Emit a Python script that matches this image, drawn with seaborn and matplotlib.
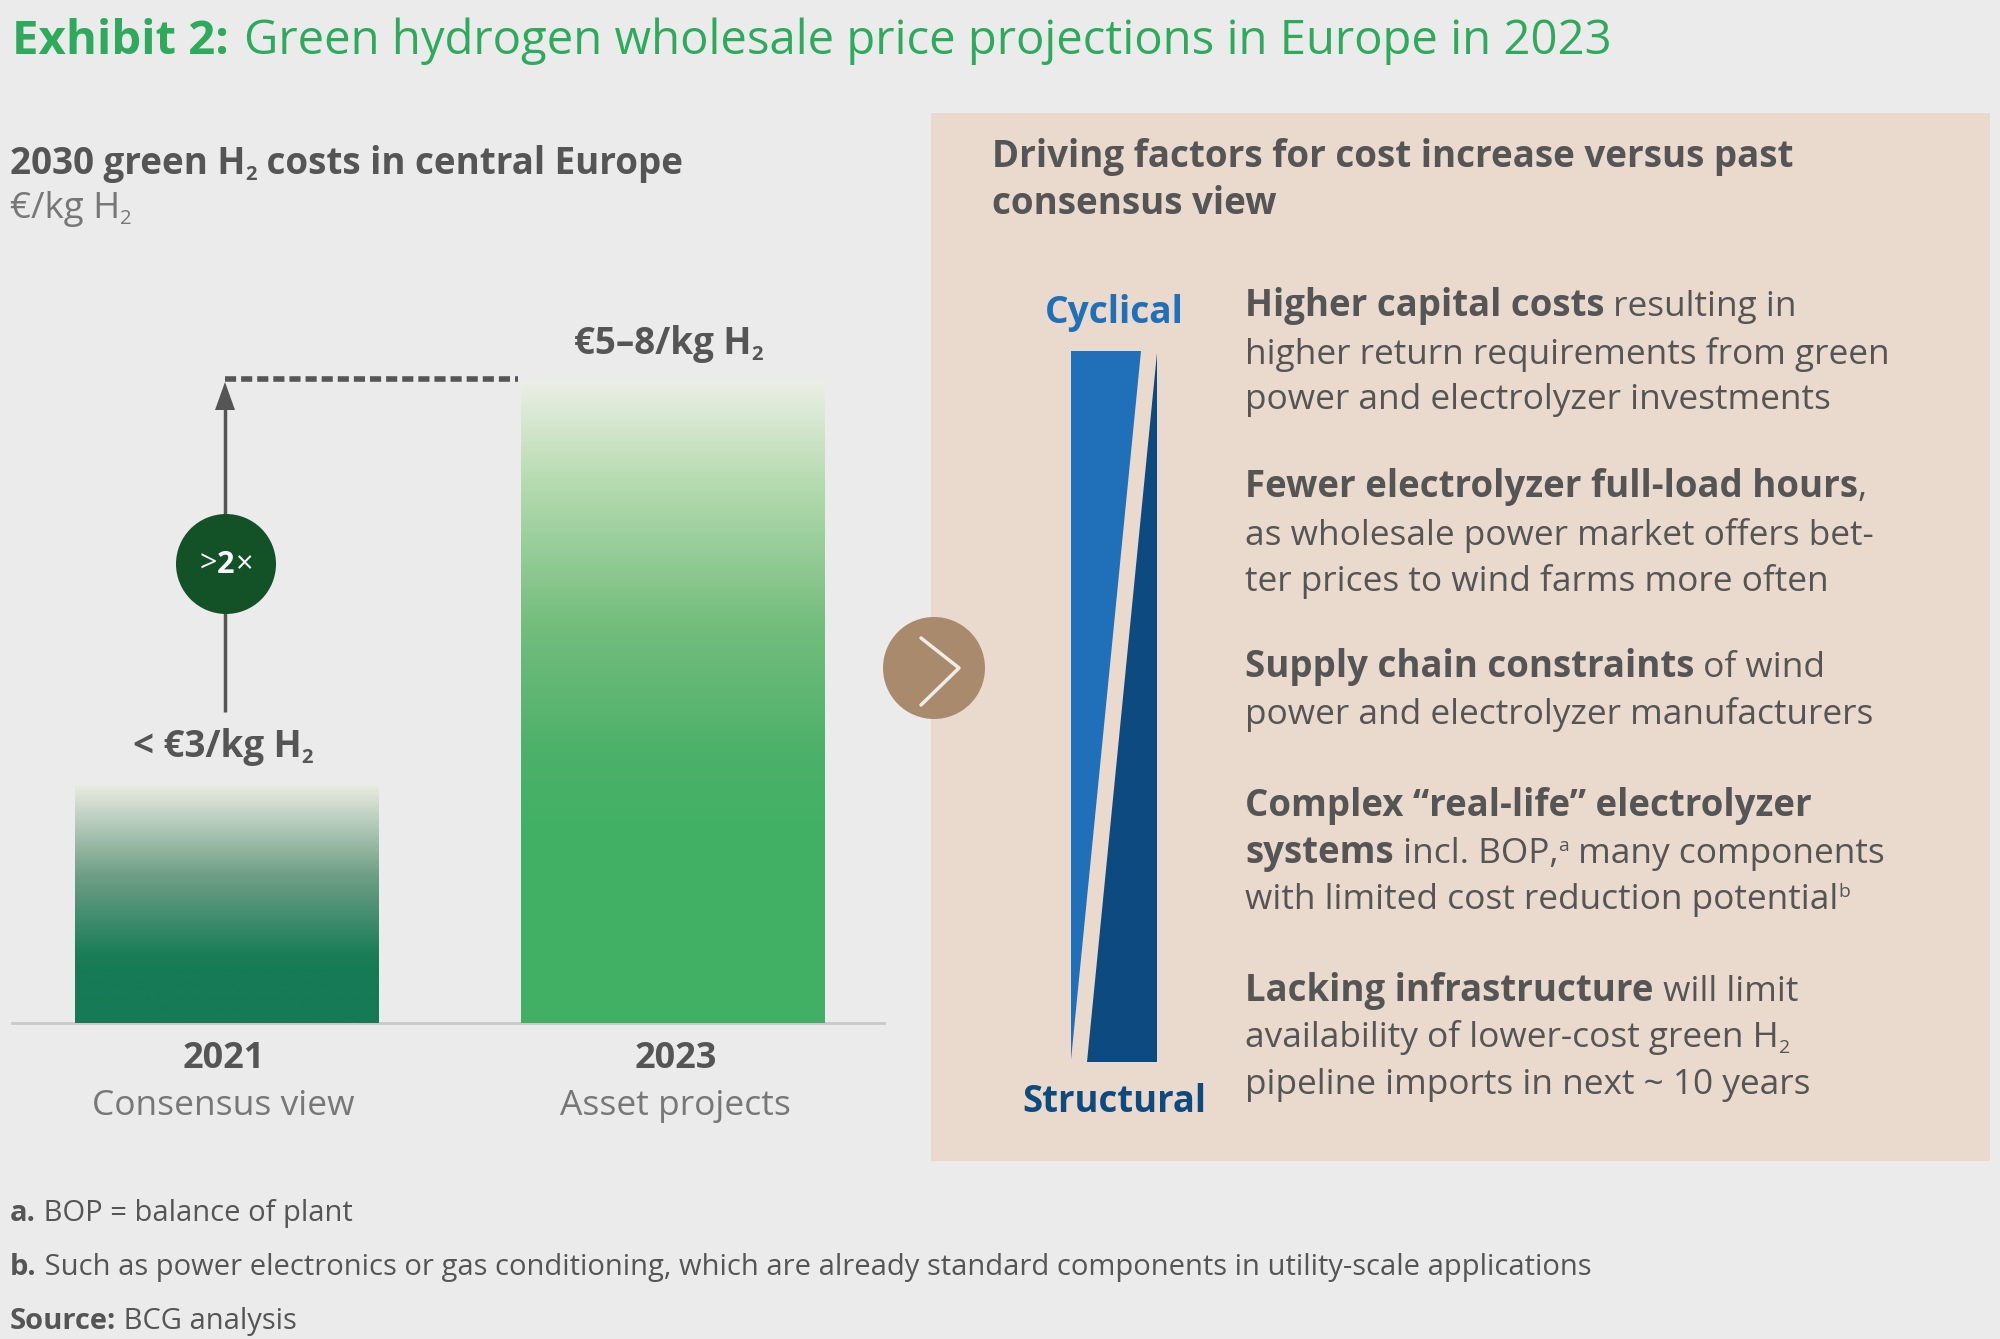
import matplotlib.pyplot as plt
import seaborn as sns
import numpy as np
from matplotlib.colors import LinearSegmentedColormap
from matplotlib.patches import Circle, Polygon, Rectangle
from matplotlib.transforms import Affine2D

# chart values
years = ['2021', '2023']
views = ['Consensus view', 'Asset projects']
costs = [2.96, 8.0]
bar_labels = ['< €3/kg H', '€5–8/kg H']

BG = '#ecebec'
PANEL = '#e9dacd'
GREY = '#555555'
LIGHT = '#777777'
GREEN = '#2eaa5c'
BLUE = '#1f6fb9'
NAVY = '#0d4a80'

sns.set_theme(style='white')
plt.rcParams['font.family'] = ['Open Sans', 'DejaVu Sans']

fig = plt.figure(figsize=(20, 13.39), dpi=100, facecolor=BG)
W, H = 2000, 1339

# overlay in pixel coordinates for the panel and annotations
over = fig.add_axes([0, 0, 1, 1], zorder=1)
over.set_xlim(0, W)
over.set_ylim(H, 0)
over.axis('off')

# bar axes: baseline at y=1023, x from 12 to 884
ax = fig.add_axes([12 / W, 1 - 1023 / H, 872 / W, 723 / H], zorder=2)
ax.patch.set_alpha(0)
sns.barplot(x=years, y=costs, ax=ax, width=0.68, color='white', saturation=1)
ax.set_yticks([])
ax.set_ylabel('')
sns.despine(ax=ax, left=True)
ax.spines['bottom'].set_color('#c9c9c9')
ax.spines['bottom'].set_linewidth(2)

# gradient fill, clipped to the bars seaborn drew
stops = [
    [(0, '#157a55'), (0.22, '#157a55'), (0.3, '#1d7e59'), (0.4, '#37896a'), (0.62, '#6f9f86'), (1, '#eaece2')],
    [(0, '#41b065'), (0.3, '#41b065'), (0.42, '#4cb16a'), (0.62, '#74bd7d'), (0.85, '#b9dcb3'), (1, '#ecefe6')],
]
grad = np.linspace(1, 0, 256).reshape(-1, 1)
for bar, st in zip(ax.patches, stops):
    bar.set_edgecolor('none')
    cmap = LinearSegmentedColormap.from_list('g', st)
    x0, w, h = bar.get_x(), bar.get_width(), bar.get_height()
    im = ax.imshow(grad, cmap=cmap, vmin=0, vmax=1, aspect='auto',
                   extent=(x0, x0 + w, 0, h), zorder=3)
    im.set_clip_path(bar)
ax.set_xlim(-0.481, 1.474)
ax.set_ylim(0, 8.99)

nudge = [-3, 3]
ax.set_xticks([0, 1])
ax.set_xticklabels(years, fontsize=26, fontweight='bold', color=GREY)
ax.tick_params(axis='x', length=0, pad=13)
for lbl, dx in zip(ax.get_xticklabels(), nudge):
    lbl.set_transform(lbl.get_transform() + Affine2D().translate(dx, 0))
for i, v in enumerate(views):
    ax.annotate(v, (i, 0), xycoords=ax.get_xaxis_transform(), xytext=(nudge[i], -92),
                textcoords='offset pixels', ha='center', va='baseline',
                fontsize=25.5, color=LIGHT)

rend = fig.canvas.get_renderer()


def width(s, **kw):
    a = over.text(0, 0, s + '.', **kw)
    b = over.text(0, 0, '.', **kw)
    w = a.get_window_extent(rend).width - b.get_window_extent(rend).width
    a.remove()
    b.remove()
    return w


def runs(x, y, parts, size, color=GREY, center=False, zorder=3, bold_scale=1.0):
    """Write a line made of bold, regular, sub and superscript pieces."""
    spec = []
    total = 0
    for txt, kind in parts:
        kw = dict(fontsize=size * bold_scale if kind == 'b' else size,
                  fontweight='bold' if kind != 'r' else 'normal')
        dy = 0
        if kind in ('sub', 'subr'):
            kw['fontsize'] = size * 0.55
            dy = 6
        if kind == 'sup':
            kw['fontsize'] = size * 0.55
            kw['fontweight'] = 'normal'
            dy = -12
        if kind == 'subr':
            kw['fontweight'] = 'normal'
        w = width(txt, **kw)
        spec.append((txt, kw, dy, w))
        total += w
    if center:
        x -= total / 2
    for txt, kw, dy, w in spec:
        over.text(x, y + dy, txt, color=color, ha='left', va='baseline', zorder=zorder, **kw)
        x += w


# title
runs(12, 54, [('Exhibit 2:', 'b')], 34, GREEN)
over.text(244, 54, 'Green hydrogen wholesale price projections in Europe in 2023',
          fontsize=34, color=GREEN, va='baseline')

# left header
runs(10, 174, [('2030 green H', 'b'), ('2', 'sub'), (' costs in central Europe', 'b')], 26.5)
runs(10, 218, [('€/kg H', 'r'), ('2', 'subr')], 26.5, LIGHT)

# bar labels
runs(223, 757, [(bar_labels[0], 'b'), ('2', 'sub')], 26.5, center=True)
runs(668, 354, [(bar_labels[1], 'b'), ('2', 'sub')], 26.5, center=True)

# growth arrow
over.plot([225, 225], [712, 400], color=GREY, lw=2.5, solid_capstyle='butt')
over.add_patch(Polygon([[225, 382], [215, 410], [235, 410]], closed=True, color=GREY, lw=0))
over.plot([225, 518], [379, 379], color=GREY, lw=4, linestyle=(0, (2, 0.9)))
over.add_patch(Circle((226, 564), 50, color='#125226', lw=0, zorder=4))
runs(226, 573, [('>', 'r'), ('2', 'b'), ('×', 'r')], 22, 'white', center=True, zorder=5)

# right panel
over.add_patch(Rectangle((931, 113), 1059, 1048, color=PANEL, lw=0, zorder=0))
over.add_patch(Circle((934, 668), 51, color='#a98a6c', lw=0, zorder=4))
over.plot([921, 959, 921], [638, 668, 705], color='#f3ece4', lw=2.5, zorder=5)

runs(992, 167, [('Driving factors for cost increase versus past', 'b')], 26.5)
runs(992, 214, [('consensus view', 'b')], 26.5)

runs(1114, 323, [('Cyclical', 'b')], 26.7, BLUE, center=True)
runs(1114, 1112, [('Structural', 'b')], 26.3, NAVY, center=True)
over.add_patch(Polygon([[1071, 351], [1141, 351], [1071, 1060]], closed=True, color=BLUE, lw=0))
over.add_patch(Polygon([[1157, 353], [1157, 1062], [1087, 1062]], closed=True, color=NAVY, lw=0))

lines = [
    (316, [('Higher capital costs', 'b'), (' resulting in', 'r')]),
    (364, [('higher return requirements from green', 'r')]),
    (409, [('power and electrolyzer investments', 'r')]),
    (497, [('Fewer electrolyzer full-load hours', 'b'), (',', 'r')]),
    (545, [('as wholesale power market offers bet-', 'r')]),
    (591, [('ter prices to wind farms more often', 'r')]),
    (677, [('Supply chain constraints', 'b'), (' of wind', 'r')]),
    (724, [('power and electrolyzer manufacturers', 'r')]),
    (816, [('Complex “real-life” electrolyzer', 'b')]),
    (863, [('systems', 'b'), (' incl. BOP,', 'r'), ('a', 'sup'), (' many components', 'r')]),
    (909, [('with limited cost reduction potential', 'r'), ('b', 'sup')]),
    (1001, [('Lacking infrastructure', 'b'), (' will limit', 'r')]),
    (1047, [('availability of lower-cost green H', 'r'), ('2', 'subr')]),
    (1094, [('pipeline imports in next ~ 10 years', 'r')]),
]
for y, parts in lines:
    runs(1245, y, parts, 25.4, bold_scale=1.04)

# footnotes
runs(10, 1221, [('a.', 'b'), (' BOP = balance of plant', 'r')], 21)
runs(10, 1275, [('b.', 'b'), (' Such as power electronics or gas conditioning, which are already standard components in utility-scale applications', 'r')], 21)
runs(10, 1329, [('Source:', 'b'), (' BCG analysis', 'r')], 21)

fig.savefig('out.png', dpi=100, facecolor=BG)
plt.close()
